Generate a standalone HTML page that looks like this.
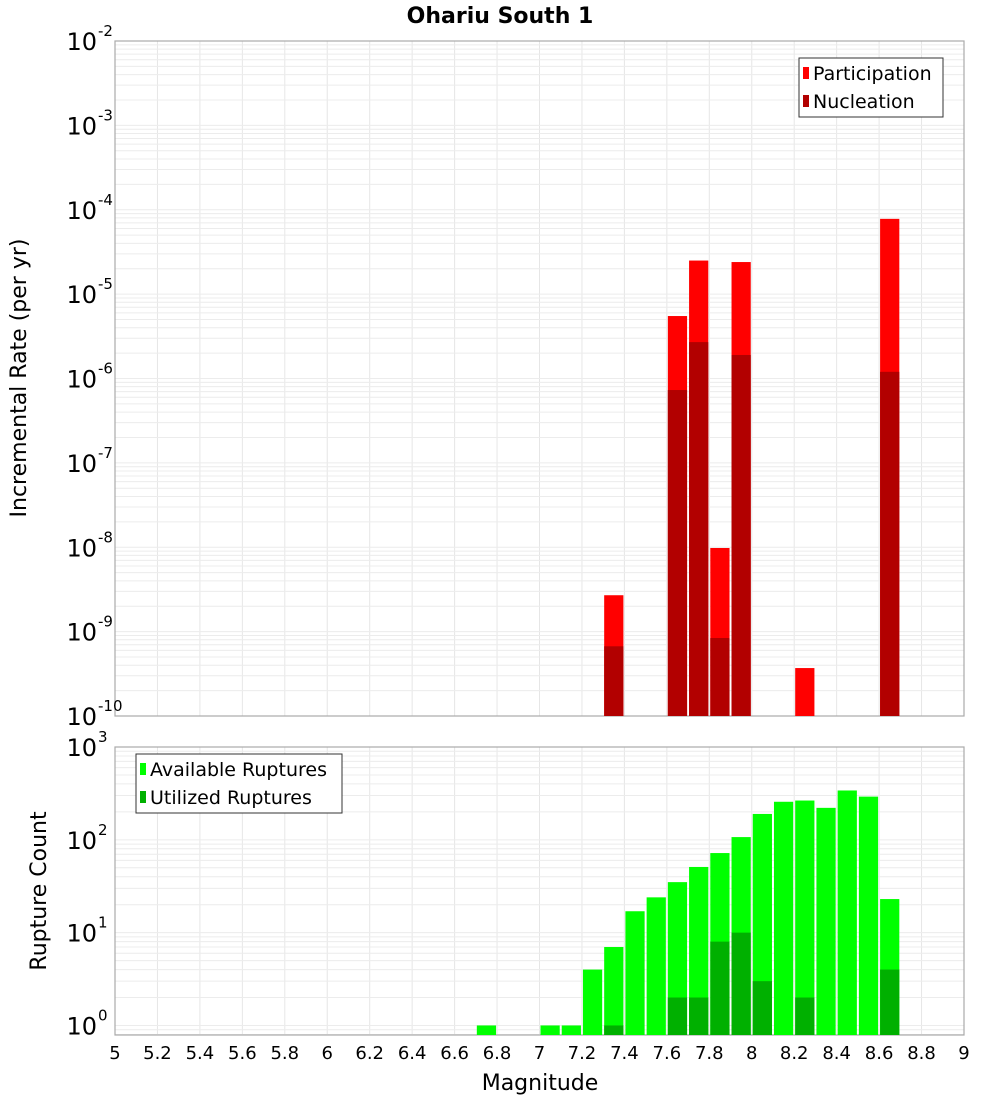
<!DOCTYPE html>
<html><head><meta charset="utf-8"><style>
html,body{margin:0;padding:0;background:#fff}
svg{display:block;font-family:"DejaVu Sans","Liberation Sans",sans-serif}
</style></head><body>
<svg id="chart" width="1000" height="1100" viewBox="0 0 1000 1100" xmlns="http://www.w3.org/2000/svg">
<text x="500" y="23" text-anchor="middle" font-size="22" font-weight="bold">Ohariu South 1</text>
<g id="top"></g><g id="bot"></g>
<text transform="translate(26,378) rotate(-90)" text-anchor="middle" font-size="22">Incremental Rate (per yr)</text>
<text transform="translate(46,891) rotate(-90)" text-anchor="middle" font-size="22">Rupture Count</text>
<text x="540" y="1090" text-anchor="middle" font-size="22">Magnitude</text>
</svg>
<script>
const rateMags = [7.35, 7.65, 7.75, 7.85, 7.95, 8.25, 8.65];
const participation = [2.7e-9, 5.5e-6, 2.5e-5, 9.8e-9, 2.4e-5, 3.7e-10, 7.8e-5];
const nucleation = [6.7e-10, 7.3e-7, 2.7e-6, 8.4e-10, 1.9e-6, 0, 1.2e-6];
const countMags = [6.75, 7.05, 7.15, 7.25, 7.35, 7.45, 7.55, 7.65, 7.75, 7.85, 7.95, 8.05, 8.15, 8.25, 8.35, 8.45, 8.55, 8.65];
const available = [1, 1, 1, 4, 7, 17, 24, 35, 51, 72, 107, 190, 257, 265, 221, 340, 292, 23];
const utilized = [0, 0, 0, 0, 1, 0, 0, 2, 2, 8, 10, 3, 0, 2, 0, 0, 0, 4];
const xTicks = [5,5.2,5.4,5.6,5.8,6,6.2,6.4,6.6,6.8,7,7.2,7.4,7.6,7.8,8,8.2,8.4,8.6,8.8,9];

const NS="http://www.w3.org/2000/svg";
const L=115,R=964;
const xs=m=>L+(m-5)*(R-L)/4;
function mk(p,tag,a){const e=document.createElementNS(NS,tag);for(const k in a)e.setAttribute(k,a[k]);p.appendChild(e);return e;}

function panel(g,top,bottom,lmin,lmax,botVal){
  const ys=v=>bottom-(Math.log10(v)-Math.log10(botVal))*(bottom-top)/(lmax-Math.log10(botVal));
  // grid
  xTicks.forEach(t=>{const l=mk(g,'line',{x1:xs(t),x2:xs(t),y1:top,y2:bottom,stroke:'#e6e6e6','stroke-width':1});
    });
  for(let d=Math.floor(Math.log10(botVal));d<lmax;d++){for(let k=1;k<10;k++){const v=k*Math.pow(10,d);if(v<botVal)continue;const y=ys(v);if(y<top)continue;
    const l=mk(g,'line',{x1:L,x2:R,y1:y,y2:y,stroke:'#ececec','stroke-width':1});
    }}
  const f=mk(g,'rect',{x:L,y:top,width:R-L,height:bottom-top,fill:'none',stroke:'#aaa','stroke-width':1.2});
  
  for(let d=lmin;d<=lmax;d++){const y=ys(Math.pow(10,d));
    const t=mk(g,'text',{x:97,y:y+9,'text-anchor':'end','font-size':24});t.textContent='10';
    
    const s=mk(g,'text',{x:98,y:y-5,'font-size':15});s.textContent=String(d);
    }
  return ys;
}
function bar(g,m,v,ys,bottom,color,name){
  if(!v)return;const x0=xs(m-0.05)+1,x1=xs(m+0.05)-1;const y=ys(v);
  const r=mk(g,'rect',{x:x0,y:y,width:x1-x0,height:bottom-y,fill:color});
  
}
function legend(g,x,y,w,items){
  const b=mk(g,'rect',{x:x,y:y,width:w,height:59,fill:'#fff',stroke:'#333','stroke-width':1});
  
  items.forEach((it,i)=>{const cy=y+15+i*28;
    const s=mk(g,'rect',{x:x+4,y:cy-6,width:6,height:12,fill:it[1]});
    
    const t=mk(g,'text',{x:x+14,y:cy+7,'font-size':19});t.textContent=it[0];
    });
}
const gt=document.getElementById('top'),gb=document.getElementById('bot');
const ysT=panel(gt,41,716,-10,-2,1e-10);
rateMags.forEach((m,i)=>bar(gt,m,participation[i],ysT,716,'#ff0000','participation-bar'));
rateMags.forEach((m,i)=>bar(gt,m,nucleation[i],ysT,716,'#b20000','nucleation-bar'));
legend(gt,799,58,144,[['Participation','#ff0000'],['Nucleation','#b20000']]);
// bottom: 1e0 at 1025.5, 1e3 at 748.5
const decB=(1025.5-748.5)/3, botV=Math.pow(10,-(1035-1025.5)/decB);
const ysB=panel(gb,747,1035,0,3,botV);
countMags.forEach((m,i)=>bar(gb,m,available[i],ysB,1035,'#00ff00','available-bar'));
countMags.forEach((m,i)=>bar(gb,m,utilized[i],ysB,1035,'#00b000','utilized-bar'));
legend(gb,136,754,206,[['Available Ruptures','#00ff00'],['Utilized Ruptures','#00b000']]);
xTicks.forEach(t=>{const e=mk(gb,'text',{x:xs(t),y:1059,'text-anchor':'middle','font-size':18});e.textContent=String(t);
  });
</script>
</body></html>
